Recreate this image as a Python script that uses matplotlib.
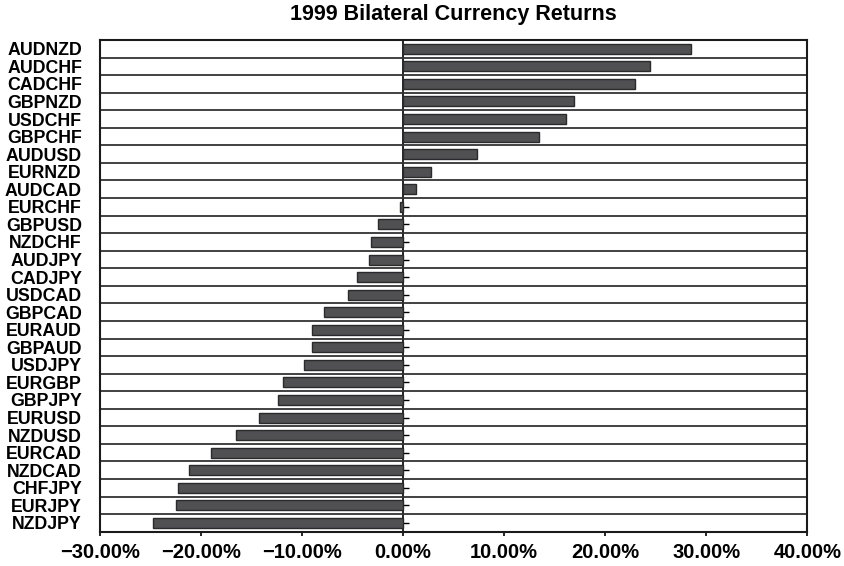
import matplotlib.pyplot as plt
import numpy as np
from matplotlib.ticker import FuncFormatter, FixedLocator

plt.rcParams['font.family'] = ['Liberation Sans', 'DejaVu Sans']
plt.rcParams['font.weight'] = 'bold'

pairs = ['AUDNZD', 'AUDCHF', 'CADCHF', 'GBPNZD', 'USDCHF', 'GBPCHF', 'AUDUSD',
         'EURNZD', 'AUDCAD', 'EURCHF', 'GBPUSD', 'NZDCHF', 'AUDJPY', 'CADJPY',
         'USDCAD', 'GBPCAD', 'EURAUD', 'GBPAUD', 'USDJPY', 'EURGBP', 'GBPJPY',
         'EURUSD', 'NZDUSD', 'EURCAD', 'NZDCAD', 'CHFJPY', 'EURJPY', 'NZDJPY']
returns = [28.5, 24.4, 22.9, 16.9, 16.1, 13.4, 7.3,
           2.8, 1.3, -0.33, -2.5, -3.2, -3.4, -4.55,
           -5.5, -7.85, -8.97, -9.04, -9.83, -11.9, -12.4,
           -14.26, -16.56, -19.0, -21.19, -22.28, -22.5, -24.75]
returns = np.array(returns) / 100

fig = plt.figure(figsize=(8.44, 5.66), dpi=100)
ax = fig.add_axes([0.1185, 0.0606, 0.838, 0.8687])

pos = np.arange(len(pairs))
ax.barh(pos, returns, height=0.57, color='#505052', edgecolor='#2a2a2a', linewidth=1.0, zorder=3)

ax.set_xlim(-0.30, 0.40)
ax.set_ylim(len(pairs) - 0.5, -0.5)
ax.set_xticks(np.arange(-0.30, 0.401, 0.10))
ax.xaxis.set_major_formatter(FuncFormatter(lambda v, p: f'{v * 100:.2f}%'.replace('-', '\u2212')))
ax.tick_params(axis='x', direction='out', length=3, width=1.2, pad=5, labelsize=14.5)

# category names sit left of the frame, ticks are drawn on the zero line instead
ax.set_yticks(pos)
ax.set_yticklabels(pairs)
ax.tick_params(axis='y', length=0, pad=13, labelsize=12.8)

# row separators
ax.yaxis.set_minor_locator(FixedLocator(pos[:-1] + 0.5))
ax.tick_params(axis='y', which='minor', length=0)
ax.grid(axis='y', which='minor', color='#333333', linewidth=1.3, zorder=1)

zero_axis = ax.secondary_yaxis(0, transform=ax.transData)
zero_axis.set_yticks(pos)
zero_axis.set_yticklabels([])
zero_axis.tick_params(direction='in', length=4, width=1.0)
zero_axis.spines['left'].set_linewidth(1.2)

for s in ax.spines.values():
    s.set_linewidth(1.5)
    s.set_color('#1a1a1a')

fig.text(0.537, 0.975, '1999 Bilateral Currency Returns', ha='center', va='center', fontsize=15.5, fontweight='bold')

fig.savefig('out.png', dpi=100)
